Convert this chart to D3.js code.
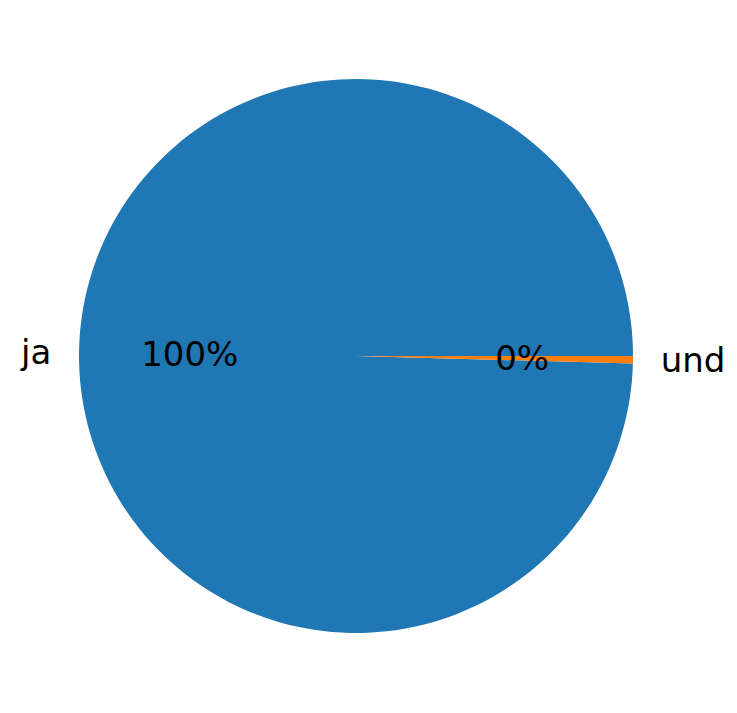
<!DOCTYPE html>
<html>
<head>
<meta charset="utf-8">
<script src="https://cdn.jsdelivr.net/npm/d3@7"></script>
<style>
  body { margin: 0; background: #fff; }
  svg text { font-family: "DejaVu Sans", sans-serif; }
</style>
</head>
<body>
<svg width="737" height="713"></svg>
<script>
const categorias = ["ja", "und"];
const valores = [232, 1];
const cores = ["#1f77b4", "#ff7f0e"];

const svg = d3.select("svg");
const cx = 356;
const cy = 356;
const raio = 277;
const tamFonte = 34;

const grupo = svg.append('g')
    .attr('transform', `translate(${cx},${cy})`);

// matplotlib começa em 3h e gira anti-horário
const pie = d3.pie()
    .sort(null)
    .startAngle(Math.PI / 2)
    .endAngle(Math.PI / 2 - 2 * Math.PI);

const fatias = pie(valores);
const arco = d3.arc().innerRadius(0).outerRadius(raio);
const total = d3.sum(valores);

grupo.selectAll('path')
    .data(fatias)
    .join('path')
        .attr('d', arco)
        .attr('fill', (d, i) => cores[i]);

const meio = d => (d.startAngle + d.endAngle) / 2;

// rótulos das categorias
grupo.selectAll('text.rotulo')
    .data(fatias)
    .join('text')
        .attr('class', 'rotulo')
        .attr('x', d => 1.1 * raio * Math.sin(meio(d)))
        .attr('y', d => -1.1 * raio * Math.cos(meio(d)))
        .attr('text-anchor', d => Math.sin(meio(d)) > 0 ? 'start' : 'end')
        .attr('dominant-baseline', 'central')
        .attr('font-size', tamFonte)
        .text((d, i) => categorias[i]);

// porcentagens
grupo.selectAll('text.pct')
    .data(fatias)
    .join('text')
        .attr('class', 'pct')
        .attr('x', d => 0.6 * raio * Math.sin(meio(d)))
        .attr('y', d => -0.6 * raio * Math.cos(meio(d)))
        .attr('text-anchor', 'middle')
        .attr('dominant-baseline', 'central')
        .attr('font-size', tamFonte)
        .text(d => `${Math.round(d.value / total * 100)}%`);
</script>
</body>
</html>
